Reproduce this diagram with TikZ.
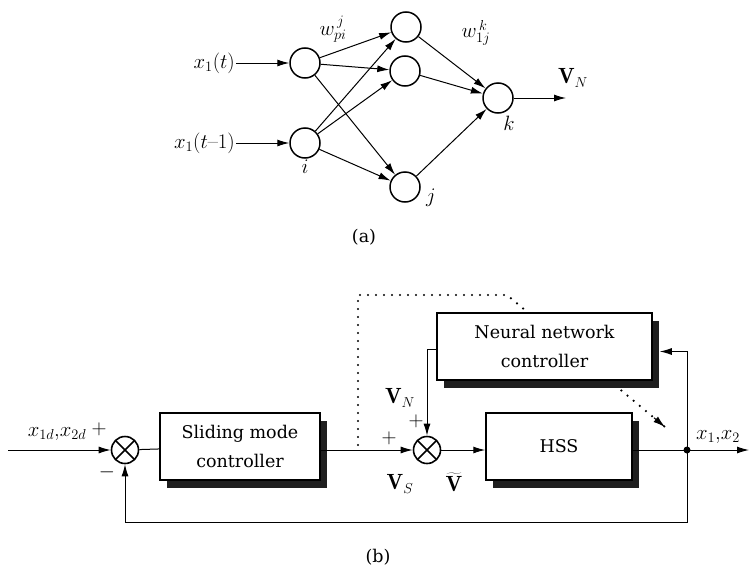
\documentclass[tikz,border=0pt]{standalone}
\usepackage{fontspec}
\newfontfamily\boxfont{DejaVu Serif}
\usetikzlibrary{arrows.meta,shadows,calc}
\begin{document}
\begin{tikzpicture}[x=1pt,y=-1pt,
  every node/.style={font=\fontsize{22}{28}\selectfont},
  neuron/.style={circle,draw,line width=1.5pt,minimum size=30pt,inner sep=0pt},
  conn/.style={line width=1pt,-{Latex[length=12pt,width=7pt]}},
  plain/.style={line width=1pt},
  btext/.style={font=\boxfont\fontsize{17.5}{29}\selectfont},
  blk/.style={draw,line width=1.5pt,fill=white,align=center,inner sep=0pt,btext,
    drop shadow={shadow xshift=7pt,shadow yshift=-8pt,fill=black!88,opacity=1}},
  sumj/.style={circle,draw,line width=1.6pt,minimum size=27pt,inner sep=0pt,
    path picture={\draw[line width=1.6pt] (path picture bounding box.north west) -- (path picture bounding box.south east)
      (path picture bounding box.north east) -- (path picture bounding box.south west);}},
  dots/.style={line width=2.4pt,line cap=round,dash pattern=on 0pt off 8pt},
  lbl/.style={inner sep=1pt}
]
\useasboundingbox (0,0) rectangle (749,570);

% ---------- (a) neural network ----------
\node[neuron] (n1) at (305,63) {};
\node[neuron] (ni) at (305,143) {};
\node[neuron] (h1) at (406,27) {};
\node[neuron] (h2) at (405,71) {};
\node[neuron] (hj) at (405,187) {};
\node[neuron] (k)  at (498,98) {};
\node[lbl,anchor=east] (x1t) at (236,63) {$x_1(t)$};
\node[lbl,anchor=east] (x1t1) at (236,143) {$x_1(t\mbox{--}1)$};
\coordinate (vout) at (566,98);
\node[lbl] (vn) at (573,78) {$\mathbf{V}_N$};
\node[lbl] (wp) at (333,29) {$w_{pi}^{\,j}$};
\node[lbl] (w1) at (476,33) {$w_{1j}^{\,k}$};
\node[lbl] (li) at (305,167) {$i$};
\node[lbl] (lj) at (431,198) {$j$};
\node[lbl] (lk) at (509,123) {$k$};
\node[lbl,btext] (capa) at (364,237) {(a)};

\draw[conn] (x1t) -- (n1);
\draw[conn] (x1t1) -- (ni);
\foreach \s in {n1,ni}{
  \foreach \t in {h1,h2,hj}{
    \draw[conn] (\s) -- (\t);
  }
}
\foreach \t in {h1,h2,hj}{ \draw[conn] (\t) -- (k); }
\draw[conn] (k) -- (vout);

% ---------- (b) control loop ----------
\coordinate (d0) at (358,445);
\coordinate (d1) at (358,295);
\coordinate (d2) at (507,295);
\coordinate (d3) at (665,427);
\draw[dots] (d0) -- (d1) -- (d2) -- (d3);
\draw[line width=1pt,-{Latex[length=12pt,width=7pt]}] ($(d2)!0.93!(d3)$) -- (d3);

\node[sumj] (s1) at (125,450) {};
\node[sumj] (s2) at (427,450) {};
\node[blk,minimum width=160pt,minimum height=67pt] (smc) at (240,446.5) {Sliding mode\\controller};
\node[blk,minimum width=146pt,minimum height=67pt] (hss) at (559,446.5) {HSS};
\node[blk,minimum width=215pt,minimum height=67pt] (nn) at (544.5,346.5) {Neural network\\controller};
\coordinate (in) at (8,450);
\coordinate (out) at (749,450);
\coordinate (jn) at (687,450);
\coordinate (fb) at (125,522);
\fill (jn) circle (3.5pt);

\draw[conn] (in) -- (s1);
\draw[plain] (s1) -- (smc);
\draw[conn] (smc.east |- s2) -- (s2);
\draw[conn] (s2) -- (hss.west |- s2);
\draw[plain] (hss.east |- jn) -- (jn);
\draw[conn] (jn) -- (out);
\draw[conn] (jn) |- ([xshift=7pt,yshift=-5pt]nn.east);
\draw[conn] ([yshift=-3pt]nn.west) -| (s2.north);
\draw[conn] (jn) |- (fb) -- (s1.south);

\node[lbl] (pl1) at (99,429) {$+$};
\node[lbl] (mi1) at (107,472) {$-$};
\node[lbl] (xd) at (57,434) {$x_{1d}{,}x_{2d}$};
\node[lbl] (pl2) at (389,438) {$+$};
\node[lbl] (pl3) at (416,421) {$+$};
\node[lbl] (vnb) at (400,398) {$\mathbf{V}_N$};
\node[lbl] (vs) at (400,484) {$\mathbf{V}_S$};
\node[lbl] (vt) at (454,482) {$\widetilde{\mathbf{V}}$};
\node[lbl] (xo) at (718,437) {$x_1{,}x_2$};
\node[lbl,btext] (capb) at (378,557) {(b)};
\end{tikzpicture}
\end{document}
